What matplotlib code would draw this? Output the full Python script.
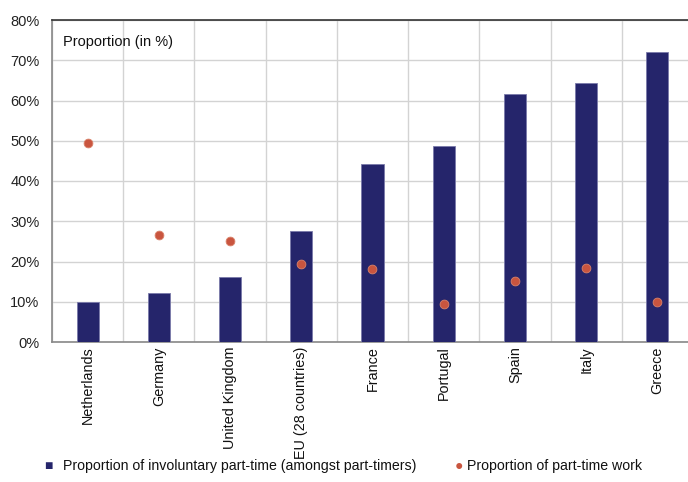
import matplotlib
matplotlib.use("Agg")
import matplotlib.pyplot as plt
import numpy as np

plt.rcParams['font.family'] = ['Liberation Sans', 'DejaVu Sans']

countries = ["Netherlands", "Germany", "United Kingdom", "EU (28 countries)",
             "France", "Portugal", "Spain", "Italy", "Greece"]
involuntary_pt = [9.9, 12.1, 16.1, 27.7, 44.2, 48.7, 61.7, 64.3, 72.0]
parttime_share = [49.5, 26.6, 25.0, 19.5, 18.1, 9.4, 15.1, 18.5, 9.9]
y_ticks = [0, 10, 20, 30, 40, 50, 60, 70, 80]

bar_color = "#25256b"
dot_color = "#c9553f"

W, H = 688, 482
fig = plt.figure(figsize=(W / 100, H / 100), dpi=100)
ax = fig.add_axes([52 / W, 140 / H, (693 - 52) / W, (342 - 20) / H])

x = np.arange(len(countries))
ax.bar(x, involuntary_pt, width=0.31, color=bar_color, edgecolor="#7a7aaa",
       linewidth=0.6, zorder=3)
ax.scatter(x, parttime_share, s=40, color=dot_color, edgecolor="#d9826a",
           linewidth=0.6, zorder=4)

ax.set_xlim(-0.5, len(countries) - 0.5)
ax.set_ylim(0, 80)
ax.set_yticks(y_ticks)
ax.set_yticklabels([f"{v}%" for v in y_ticks], fontsize=10.5, color="#222222")
ax.set_xticks(x)
ax.set_xticklabels(countries, rotation=90, fontsize=10.4, color="#111111",
                   va="top", ha="center")
ax.set_xticks(np.arange(len(countries) + 1) - 0.5, minor=True)
ax.tick_params(axis="both", which="both", length=0)
ax.tick_params(axis="x", pad=3)
ax.tick_params(axis="y", pad=9)

ax.grid(axis="y", color="#d3d3d3", linewidth=1.0, zorder=0)
ax.grid(axis="x", which="minor", color="#d3d3d3", linewidth=1.0, zorder=0)
ax.grid(axis="x", which="major", visible=False)
ax.set_axisbelow(True)

ax.spines["right"].set_visible(False)
ax.spines["top"].set_color("#333333")
ax.spines["top"].set_linewidth(1.2)
ax.spines["left"].set_color("#888888")
ax.spines["left"].set_linewidth(1.2)
ax.spines["bottom"].set_color("#888888")
ax.spines["bottom"].set_linewidth(1.2)

# axis caption inside the plot area (pixel positions measured from the top)
fig.text(63 / W, 1 - 42 / H, "Proportion (in %)",
         fontsize=10.5, color="#111111", va="center", ha="left")

# legend row along the bottom
leg_y = 1 - 466 / H
fig.text(44 / W, leg_y, "\u25a0", fontsize=10, color=bar_color,
         va="center", ha="left")
fig.text(63 / W, leg_y,
         "Proportion of involuntary part-time (amongst part-timers)",
         fontsize=10.2, color="#111111", va="center", ha="left")
fig.text(459 / W, leg_y, "\u25cf", fontsize=10, color=dot_color,
         va="center", ha="center")
fig.text(467 / W, leg_y, "Proportion of part-time work",
         fontsize=10.2, color="#111111", va="center", ha="left")

fig.savefig("out.png", dpi=100)
